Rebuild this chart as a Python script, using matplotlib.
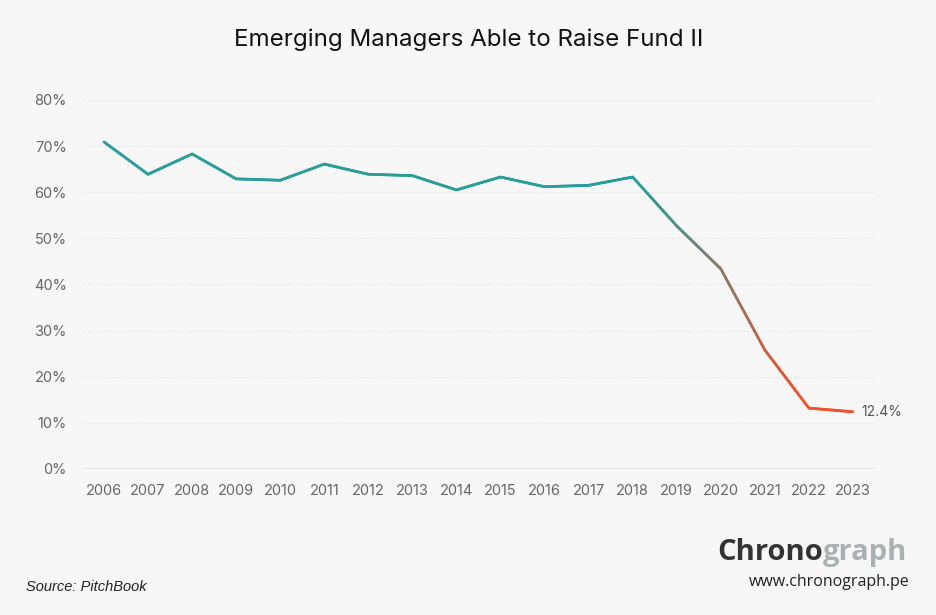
import matplotlib
matplotlib.use("Agg")
import matplotlib.pyplot as plt
import numpy as np
from matplotlib.collections import LineCollection
from matplotlib.colors import to_rgb

years = [2006, 2007, 2008, 2009, 2010, 2011, 2012, 2013, 2014, 2015,
         2016, 2017, 2018, 2019, 2020, 2021, 2022, 2023]
values = [70.9, 63.9, 68.3, 62.9, 62.6, 66.1, 63.9, 63.6, 60.5, 63.3,
          61.2, 61.5, 63.3, 52.7, 43.4, 25.8, 13.2, 12.4]
yticks = [0, 10, 20, 30, 40, 50, 60, 70, 80]
title = "Emerging Managers Able to Raise Fund II"
end_label = "12.4%"

BG = "#f7f7f7"
TEAL = to_rgb("#2a9d9c")
RED = to_rgb("#f0522e")

fig = plt.figure(figsize=(9.37, 6.15), dpi=100, facecolor=BG)
ax = fig.add_axes([0.0875, 0.2374, 0.8463, 0.6])
ax.set_facecolor(BG)

# gradient line: subdivide each segment for colouring
x = np.array(years, dtype=float)
y = np.array(values, dtype=float)
segs, cols = [], []
n = 30
g0, g1 = 2018.3, 2021.8
for i in range(len(x) - 1):
    xs = np.linspace(x[i], x[i + 1], n + 1)
    ys = np.linspace(y[i], y[i + 1], n + 1)
    for j in range(n):
        segs.append([(xs[j], ys[j]), (xs[j + 1], ys[j + 1])])
        xm = 0.5 * (xs[j] + xs[j + 1])
        t = np.clip((xm - g0) / (g1 - g0), 0, 1)
        c = tuple((1 - t) * np.array(TEAL) + t * np.array(RED))
        cols.append(c)
lc = LineCollection(segs, colors=cols, linewidths=2.0, capstyle="round", joinstyle="round")
ax.add_collection(lc)

ax.set_xlim(2005.5, 2023.5)
ax.set_ylim(0, 80)
ax.set_xticks(years)
ax.set_xticklabels([str(v) for v in years])
ax.set_yticks(yticks)
ax.set_yticklabels([f"{v}%" for v in yticks])
for s in ax.spines.values():
    s.set_visible(False)
ax.tick_params(length=0, labelsize=10.5, labelcolor="#666666")
ax.tick_params(axis="y", pad=11)
ax.tick_params(axis="x", pad=11)
for v in yticks[1:]:
    ax.axhline(v, color="#e3e3e3", lw=0.8, ls=(0, (1, 1.5)), zorder=0)
ax.axhline(0, color="#e2e2e2", lw=1.2, zorder=0)
for lbl in ax.get_xticklabels() + ax.get_yticklabels():
    lbl.set_family("Inter")

ax.annotate(end_label, xy=(years[-1], values[-1]), xytext=(6, 0), textcoords="offset points",
            va="center", ha="left", fontsize=10, color="#555555", family="Inter")

fig.text(0.5, 0.936, title, ha="center", va="center", fontsize=17.4, color="#111111", family="Inter")
fig.text(0.028, 0.045, "Source: PitchBook", ha="left", va="center", fontsize=10.5,
         style="italic", color="#222222", family="Liberation Sans")

fig.text(0.878, 0.101, "Chrono", ha="right", va="center", fontsize=21, fontweight="bold",
         color="#333333", family="Open Sans")
fig.text(0.878, 0.101, "graph", ha="left", va="center", fontsize=21, fontweight="bold",
         color="#aab1b1", family="Open Sans")
fig.text(0.971, 0.053, "www.chronograph.pe", ha="right", va="center", fontsize=11.5,
         color="#222222", family="Open Sans")

fig.savefig("out.png", dpi=100, facecolor=BG)
